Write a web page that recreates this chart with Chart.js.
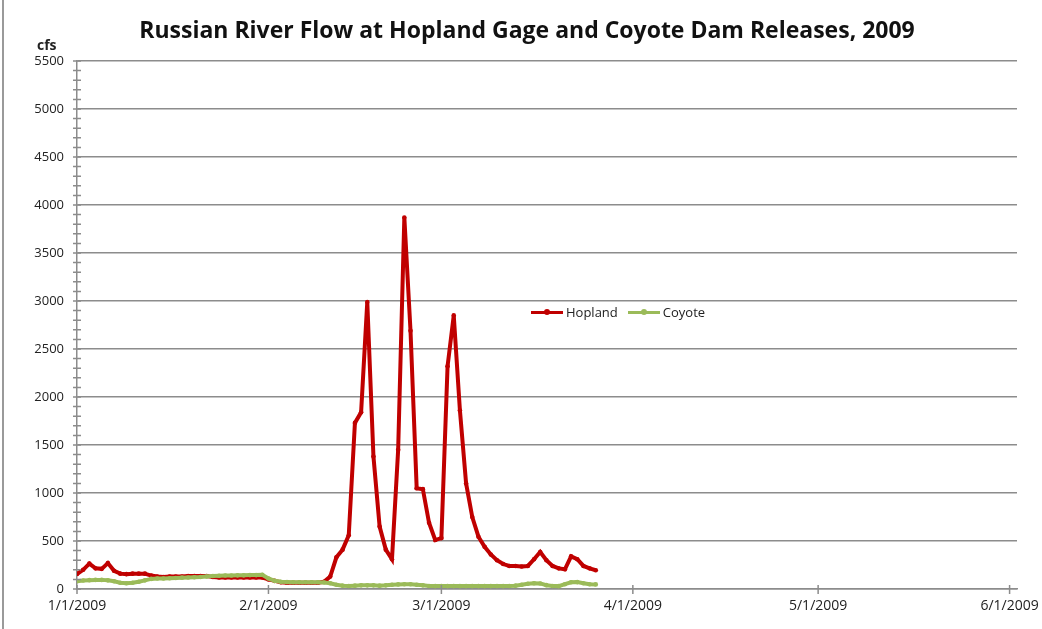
<!DOCTYPE html>
<html>
<head>
<meta charset="utf-8">
<title>Russian River Flow at Hopland Gage and Coyote Dam Releases, 2009</title>
<script src="https://cdn.jsdelivr.net/npm/chart.js"></script>
<style>
  body { margin: 0; background: #fff; }
  #wrap { position: relative; width: 1042px; height: 629px; font-family: "Open Sans", sans-serif; }
  #edge { position: absolute; left: 2px; top: 0; width: 2px; height: 629px; background: #9a9a9a; }
  #title { position: absolute; left: 27px; width: 1000px; top: 15px; line-height: 28px; text-align: center;
           font-size: 23px; font-weight: bold; color: #111; }
  #unit { position: absolute; left: 37px; top: 35px; font-size: 14px; font-weight: bold; color: #222; }
  #legend { position: absolute; left: 531px; top: 303px; font-size: 13px; color: #222; display: flex; gap: 10px; }
  .item { display: flex; align-items: center; }
  .swatch { position: relative; width: 32px; height: 3px; margin-right: 3px; }
  .swatch i { position: absolute; left: 13px; top: -2px; width: 6px; height: 6px; border-radius: 3px; }
</style>
</head>
<body>
<div id="wrap">
  <canvas id="flowChart" width="1042" height="629"></canvas>
  <div id="edge"></div>
  <div id="title">Russian River Flow at Hopland Gage and Coyote Dam Releases, 2009</div>
  <div id="unit">cfs</div>
  <div id="legend">
    <div class="item"><span class="swatch" style="background:#c00000"><i style="background:#c00000"></i></span>Hopland</div>
    <div class="item"><span class="swatch" style="background:#9bbb59"><i style="background:#9bbb59"></i></span>Coyote</div>
  </div>
</div>
<script>
// daily flows from 1/1/2009 to 3/26/2009 (cfs)
const hoplandCfs = [
  156, 200, 265, 215, 210, 270, 190, 160, 155, 160,
  160, 160, 140, 130, 125, 130, 130, 130, 135, 135,
  135, 135, 125, 120, 120, 120, 120, 120, 120, 120,
  120, 100, 85, 70, 65, 65, 65, 65, 65, 65,
  75, 130, 330, 410, 560, 1730, 1840, 2990, 1380, 650,
  410, 310, 1450, 3870, 2690, 1050, 1040, 690, 510, 530,
  2320, 2850, 1860, 1100, 750, 545, 440, 360, 300, 260,
  240, 240, 235, 240, 310, 385, 300, 240, 215, 205,
  340, 310, 240, 215, 195
];
const coyoteCfs = [
  80, 88, 92, 95, 95, 90, 80, 65, 60, 65,
  75, 90, 105, 110, 110, 112, 115, 118, 120, 122,
  125, 130, 135, 138, 140, 140, 142, 142, 145, 145,
  148, 110, 85, 75, 72, 70, 70, 70, 70, 70,
  68, 60, 45, 35, 32, 35, 38, 38, 38, 35,
  38, 45, 48, 50, 50, 45, 38, 32, 30, 30,
  30, 30, 30, 30, 30, 30, 30, 30, 30, 30,
  32, 35, 45, 55, 60, 58, 40, 32, 30, 50,
  70, 72, 60, 50, 48
];
// x axis: days since 1/1/2009
const tickDays = [0, 31, 59, 90, 120, 151];
const tickLabels = ['1/1/2009', '2/1/2009', '3/1/2009', '4/1/2009', '5/1/2009', '6/1/2009'];

const axisGray = '#8c8c8c';

// small tick marks that cross the axes, like the original
const crossTicks = {
  id: 'crossTicks',
  afterDatasetsDraw(chart) {
    const ctx = chart.ctx;
    const x = chart.scales.x, y = chart.scales.y;
    ctx.save();
    ctx.strokeStyle = axisGray;
    ctx.lineWidth = 1.5;
    ctx.beginPath();
    for (let v = 0; v <= 5500; v += 100) {
      const py = y.getPixelForValue(v);
      ctx.moveTo(x.left - 4, py);
      ctx.lineTo(x.left + 4, py);
    }
    tickDays.forEach(d => {
      const px = x.getPixelForValue(d);
      ctx.moveTo(px, y.bottom - 4);
      ctx.lineTo(px, y.bottom + 5);
    });
    ctx.stroke();
    ctx.restore();
  }
};

new Chart(document.getElementById('flowChart').getContext('2d'), {
  type: 'line',
  data: {
    datasets: [
      {
        label: 'Hopland',
        data: hoplandCfs.map((v, i) => ({ x: i, y: v })),
        borderColor: '#c00000',
        backgroundColor: '#c00000',
        borderWidth: 4,
        pointRadius: 2.3,
        pointBorderWidth: 0,
        tension: 0,
        order: 1
      },
      {
        label: 'Coyote',
        data: coyoteCfs.map((v, i) => ({ x: i, y: v })),
        borderColor: '#9bbb59',
        backgroundColor: '#9bbb59',
        borderWidth: 4,
        pointRadius: 2.3,
        pointBorderWidth: 0,
        tension: 0,
        order: 0
      }
    ]
  },
  options: {
    responsive: false,
    animation: false,
    layout: { padding: { left: 0, right: 25, top: 61, bottom: 0 } },
    plugins: {
      legend: { display: false },
      tooltip: { enabled: false },
      title: { display: false }
    },
    scales: {
      x: {
        type: 'linear',
        min: 0,
        max: 152.2,
        afterBuildTicks: s => { s.ticks = tickDays.map(v => ({ value: v })); },
        afterFit: s => { s.height = 40; s.paddingLeft = 0; s.paddingRight = 0; },
        grid: { display: false, drawTicks: false },
        border: { color: axisGray, width: 1.5 },
        ticks: {
          autoSkip: false,
          maxRotation: 0,
          padding: 9,
          color: '#222',
          font: { family: 'Open Sans', size: 14 },
          callback: v => tickLabels[tickDays.indexOf(v)]
        }
      },
      y: {
        min: 0,
        max: 5500,
        afterBuildTicks: s => {
          const t = [];
          for (let v = 0; v <= 5500; v += 500) t.push({ value: v });
          s.ticks = t;
        },
        afterFit: s => { s.width = 77; s.paddingTop = 0; s.paddingBottom = 0; },
        grid: { color: axisGray, lineWidth: 1.5, drawTicks: false },
        border: { color: axisGray, width: 1.5 },
        ticks: {
          padding: 13,
          color: '#222',
          font: { family: 'Open Sans', size: 13 },
          callback: v => String(v)
        }
      }
    }
  },
  plugins: [crossTicks]
});
</script>
</body>
</html>
